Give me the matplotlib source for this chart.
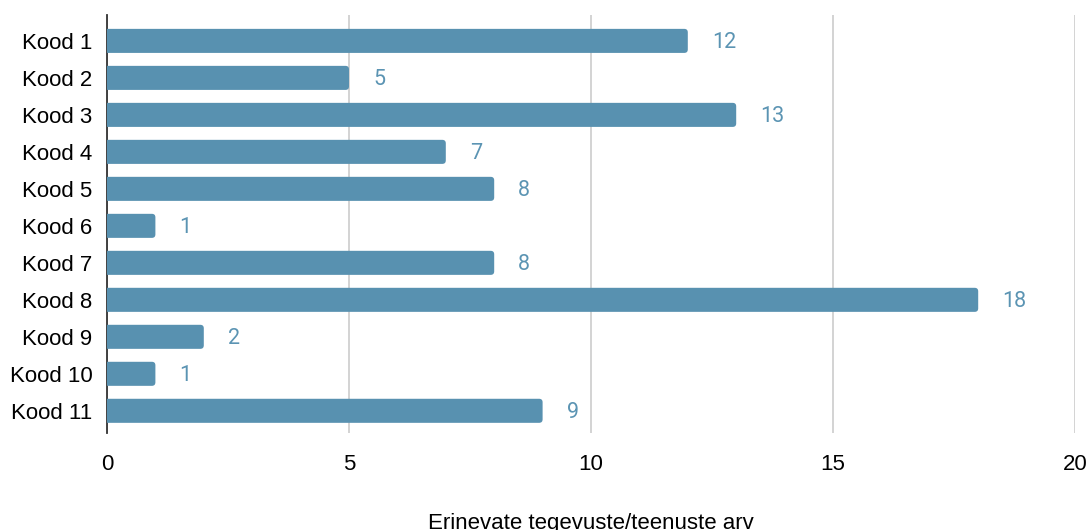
import matplotlib
matplotlib.use("Agg")
import matplotlib.pyplot as plt
from matplotlib.patches import FancyBboxPatch

categories = ["Kood 1", "Kood 2", "Kood 3", "Kood 4", "Kood 5", "Kood 6",
              "Kood 7", "Kood 8", "Kood 9", "Kood 10", "Kood 11"]
values = [12, 5, 13, 7, 8, 1, 8, 18, 2, 1, 9]
xticks = [0, 5, 10, 15, 20]
xlabel = "Erinevate tegevuste/teenuste arv"

bar_color = "#5891b0"
label_color = "#5b94b3"

fig = plt.figure(figsize=(10.89, 5.30), dpi=100)
ax = fig.add_axes([107/1089, 1 - 433/530, (1075-107)/1089, (433-15)/530])

ypos = list(range(len(categories)))
bars = ax.barh(ypos, values, height=0.65, color=bar_color, zorder=3)

# replace with rounded bars
xpx = 968/20.0
ypx = 418/11.3
r = 3.5 / xpx
for b in bars:
    x0, y0 = b.get_x(), b.get_y()
    w, h = b.get_width(), b.get_height()
    b.set_visible(False)
    p = FancyBboxPatch((x0 - r * 2, y0), w + r * 2, h,
                       boxstyle=f"round,pad=0,rounding_size={r}",
                       mutation_aspect=xpx / ypx,
                       facecolor=bar_color, edgecolor="none", zorder=3)
    ax.add_patch(p)

for y, v in zip(ypos, values):
    ax.text(v + 24 / xpx, y + 2 / ypx, str(v), va="center", ha="left",
            color=label_color, fontsize=15.5, family="Roboto", zorder=4)

ax.set_xlim(0, 20)
ax.set_ylim(10.6, -0.7)
ax.set_xticks(xticks)
ax.set_xticklabels([str(t) for t in xticks], family="Liberation Sans", fontsize=16)
ax.set_yticks(ypos)
ax.set_yticklabels(categories, family="Liberation Sans", fontsize=16)
ax.tick_params(axis="both", length=0)
ax.tick_params(axis="x", pad=15)
ax.tick_params(axis="y", pad=10.5)

ax.grid(axis="x", color="#cccccc", linewidth=1.2, zorder=0)
ax.set_axisbelow(True)
for s in ["top", "right", "bottom"]:
    ax.spines[s].set_visible(False)
ax.spines["left"].set_color("#333333")
ax.spines["left"].set_linewidth(1.3)
ax.spines["left"].set_zorder(2)

fig.text(591/1089, 1 - 523/530, xlabel, ha="center", va="center",
         family="Liberation Sans", fontsize=16)

fig.savefig("out.png", dpi=100)
